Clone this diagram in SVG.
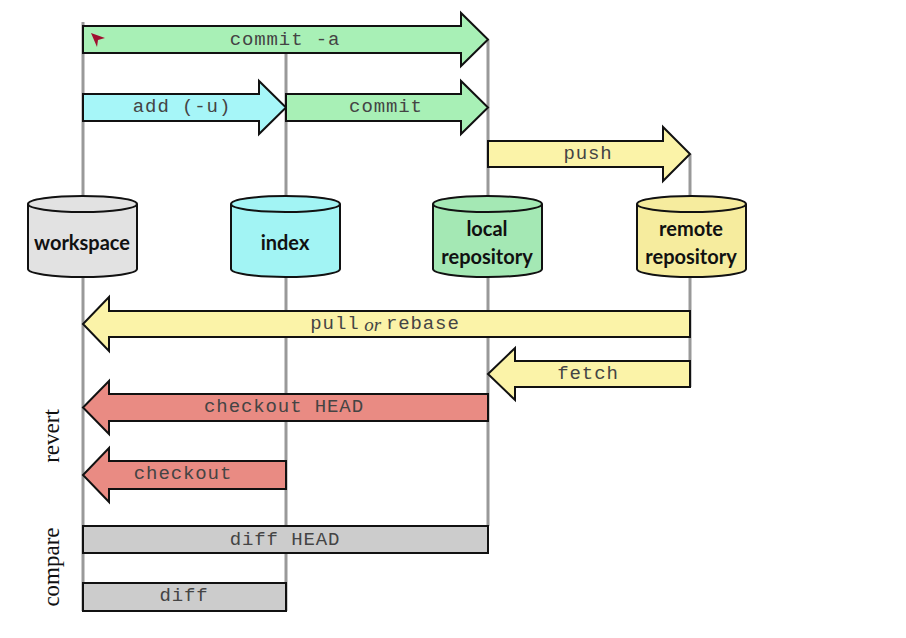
<svg xmlns="http://www.w3.org/2000/svg" width="906" height="638" viewBox="0 0 906 638">
<style>
.vl{stroke:#999;stroke-width:3;fill:none}
.ar{stroke:#111;stroke-width:2;stroke-linejoin:miter}
.lbl{font-family:"Liberation Mono","Courier New",monospace;font-size:19px;fill:#444;text-anchor:middle;dominant-baseline:central;letter-spacing:0.9px}
.cyl{stroke:#111;stroke-width:2}
.ct{font-family:"Lato","Liberation Sans",sans-serif;font-size:20px;font-weight:bold;fill:#111;text-anchor:middle;dominant-baseline:central}
.side{font-family:"Liberation Serif","Times New Roman",serif;font-size:23px;fill:#111;text-anchor:middle;dominant-baseline:central}
.green{fill:#a8f0b6}.cyan{fill:#a6f6f8}.yellow{fill:#fbf3a8}.red{fill:#e98b83}.gray{fill:#cccccc}
</style>
<rect width="906" height="638" fill="#ffffff"/>
<g id="connectors">
<path class="vl" d="M83,22V611M286,52V611M488,40V526M690,154V387"/>
<g id="commit-a"><path class="ar green" d="M83,26H461V13L488,39.5L461,66V53H83Z"/><text class="lbl" x="285" y="40">commit -a</text></g>
<g id="add"><path class="ar cyan" d="M83,94H259V81L286,107.5L259,134V121H83Z"/><text class="lbl" x="182" y="107">add (-u)</text></g>
<g id="commit"><path class="ar green" d="M286,94H461V81L488,107.5L461,134V121H286Z"/><text class="lbl" x="386" y="107">commit</text></g>
<g id="push"><path class="ar yellow" d="M488,141H663V127L690,154L663,181V167H488Z"/><text class="lbl" x="588" y="154">push</text></g>
<g id="pull"><path class="ar yellow" d="M690,311H109V297L83,324L109,351V337H690Z"/><text class="lbl" x="385" y="324">pull<tspan font-family="Liberation Serif,serif" font-style="italic" letter-spacing="0"> or </tspan>rebase</text></g>
<g id="fetch"><path class="ar yellow" d="M690,361H515V348L488,374L515,400V387H690Z"/><text class="lbl" x="588" y="374">fetch</text></g>
<g id="checkout-head"><path class="ar red" d="M488,394H109V381L83,407.5L109,434V421H488Z"/><text class="lbl" x="284" y="407">checkout HEAD</text></g>
<g id="checkout"><path class="ar red" d="M286,461H109V448L83,475L109,502V489H286Z"/><text class="lbl" x="183" y="474">checkout</text></g>
<g id="diff-head"><rect class="ar gray" x="83" y="526" width="405" height="27"/><text class="lbl" x="285" y="540">diff HEAD</text></g>
<g id="diff"><rect class="ar gray" x="83" y="583" width="203" height="28"/><text class="lbl" x="184" y="596">diff</text></g>
</g>
<polygon points="91,33 105,38 98,40 97,47" fill="#a01030"/>
<g id="workspace"><path class="cyl" fill="#e2e2e2" d="M28,204A54.5,8 0 0 1 137,204V269A54.5,8 0 0 1 28,269Z"/><path class="cyl" fill="none" d="M28,204A54.5,8 0 0 0 137,204"/><text class="ct" x="82" y="242">workspace</text></g>
<g id="index"><path class="cyl" fill="#a2f4f4" d="M231,204A54.5,8 0 0 1 340,204V269A54.5,8 0 0 1 231,269Z"/><path class="cyl" fill="none" d="M231,204A54.5,8 0 0 0 340,204"/><text class="ct" x="285" y="242">index</text></g>
<g id="local"><path class="cyl" fill="#a4e8b4" d="M433,204A54.5,8 0 0 1 542,204V269A54.5,8 0 0 1 433,269Z"/><path class="cyl" fill="none" d="M433,204A54.5,8 0 0 0 542,204"/><text class="ct" x="487" y="228">local</text><text class="ct" x="487" y="256">repository</text></g>
<g id="remote"><path class="cyl" fill="#f6ec9e" d="M637,204A54.5,8 0 0 1 746,204V269A54.5,8 0 0 1 637,269Z"/><path class="cyl" fill="none" d="M637,204A54.5,8 0 0 0 746,204"/><text class="ct" x="691" y="228">remote</text><text class="ct" x="691" y="256">repository</text></g>
<text class="side" transform="translate(51,436) rotate(-90)">revert</text>
<text class="side" transform="translate(51,567) rotate(-90)">compare</text>
</svg>
